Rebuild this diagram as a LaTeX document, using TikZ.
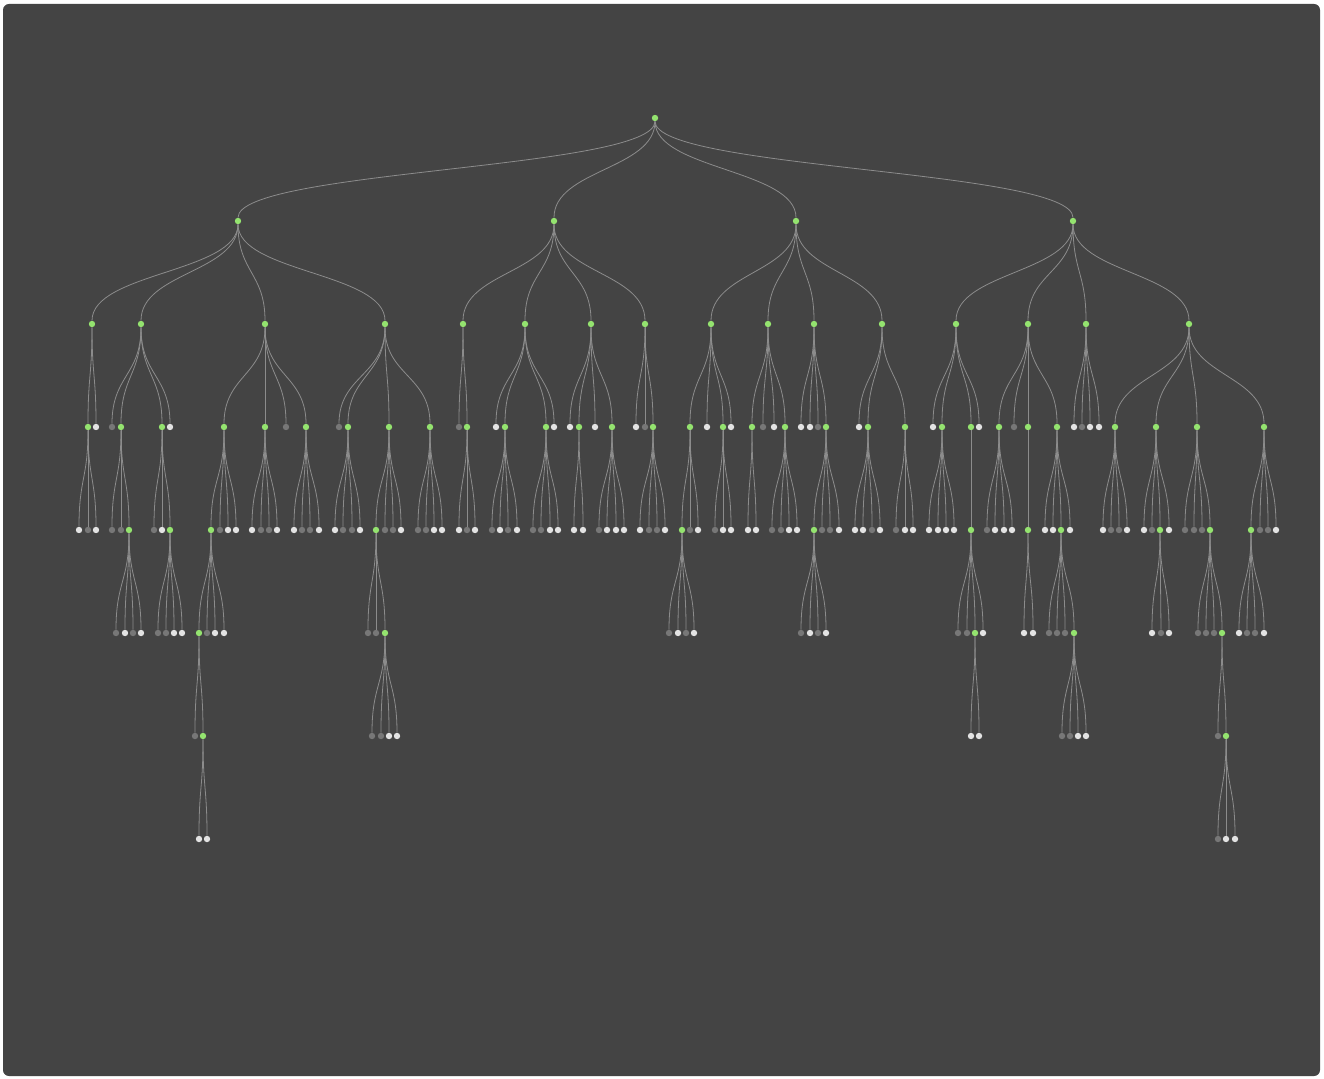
\documentclass[tikz,border=0pt]{standalone}
\definecolor{bgc}{HTML}{444444}
\definecolor{grn}{HTML}{94E36F}
\definecolor{lgt}{HTML}{E3E3E3}
\definecolor{drk}{HTML}{777777}
\definecolor{lnc}{HTML}{8C8C8C}
\tikzset{
  nd/.style={circle, inner sep=0pt, minimum size=6.4pt, draw=none},
  gn/.style={nd, fill=grn},
  wn/.style={nd, fill=lgt},
  dn/.style={nd, fill=drk},
  lnk/.style={draw=lnc, line width=0.8pt}
}
\newcommand{\kid}[5]{\node[#5] (#2) at (#3,#4) {};
  \draw[lnk] (#1) .. controls +(0,51.5) and +(0,-51.5) .. (#2);}
\begin{document}
\begin{tikzpicture}[x=1pt,y=-1pt]
\useasboundingbox (0,0) rectangle (1324,1078);
\fill[white] (0,0) rectangle (1324,1078);
\fill[bgc, rounded corners=6pt] (3,4) rectangle (1320,1076);
% level 0
\node[gn] (R) at (655,118) {};
% level 1
\kid{R}{A}{238}{221}{gn}
\kid{R}{B}{554}{221}{gn}
\kid{R}{C}{796}{221}{gn}
\kid{R}{D}{1073}{221}{gn}
% level 2
\kid{A}{A1}{92}{324}{gn}
\kid{A}{A2}{141}{324}{gn}
\kid{A}{A3}{265}{324}{gn}
\kid{A}{A4}{385}{324}{gn}
\kid{B}{B1}{463}{324}{gn}
\kid{B}{B2}{525}{324}{gn}
\kid{B}{B3}{591}{324}{gn}
\kid{B}{B4}{645}{324}{gn}
\kid{C}{C1}{711}{324}{gn}
\kid{C}{C2}{768}{324}{gn}
\kid{C}{C3}{814}{324}{gn}
\kid{C}{C4}{882}{324}{gn}
\kid{D}{D1}{956}{324}{gn}
\kid{D}{D2}{1028}{324}{gn}
\kid{D}{D3}{1086}{324}{gn}
\kid{D}{D4}{1189}{324}{gn}
% level 3
\kid{A1}{A11}{88}{427}{gn}
\kid{A1}{A12}{96}{427}{wn}
\kid{A2}{A21}{112}{427}{dn}
\kid{A2}{A22}{121}{427}{gn}
\kid{A2}{A23}{162}{427}{gn}
\kid{A2}{A24}{170}{427}{wn}
\kid{A3}{A31}{224}{427}{gn}
\kid{A3}{A32}{265}{427}{gn}
\kid{A3}{A33}{286}{427}{dn}
\kid{A3}{A34}{306}{427}{gn}
\kid{A4}{A41}{339}{427}{dn}
\kid{A4}{A42}{348}{427}{gn}
\kid{A4}{A43}{389}{427}{gn}
\kid{A4}{A44}{430}{427}{gn}
\kid{B1}{B11}{459}{427}{dn}
\kid{B1}{B12}{467}{427}{gn}
\kid{B2}{B21}{496}{427}{wn}
\kid{B2}{B22}{505}{427}{gn}
\kid{B2}{B23}{546}{427}{gn}
\kid{B2}{B24}{554}{427}{wn}
\kid{B3}{B31}{570}{427}{wn}
\kid{B3}{B32}{579}{427}{gn}
\kid{B3}{B33}{595}{427}{wn}
\kid{B3}{B34}{612}{427}{gn}
\kid{B4}{B41}{636}{427}{wn}
\kid{B4}{B42}{645}{427}{dn}
\kid{B4}{B43}{653}{427}{gn}
\kid{C1}{C11}{690}{427}{gn}
\kid{C1}{C12}{707}{427}{wn}
\kid{C1}{C13}{723}{427}{gn}
\kid{C1}{C14}{731}{427}{wn}
\kid{C2}{C21}{752}{427}{gn}
\kid{C2}{C22}{763}{427}{dn}
\kid{C2}{C23}{774}{427}{wn}
\kid{C2}{C24}{785}{427}{gn}
\kid{C3}{C31}{801}{427}{wn}
\kid{C3}{C32}{810}{427}{wn}
\kid{C3}{C33}{818}{427}{dn}
\kid{C3}{C34}{826}{427}{gn}
\kid{C4}{C41}{859}{427}{wn}
\kid{C4}{C42}{868}{427}{gn}
\kid{C4}{C43}{905}{427}{gn}
\kid{D1}{D11}{933}{427}{wn}
\kid{D1}{D12}{942}{427}{gn}
\kid{D1}{D13}{971}{427}{gn}
\kid{D1}{D14}{979}{427}{wn}
\kid{D2}{D21}{999}{427}{gn}
\kid{D2}{D22}{1014}{427}{dn}
\kid{D2}{D23}{1028}{427}{gn}
\kid{D2}{D24}{1057}{427}{gn}
\kid{D3}{D31}{1074}{427}{wn}
\kid{D3}{D32}{1082}{427}{dn}
\kid{D3}{D33}{1090}{427}{wn}
\kid{D3}{D34}{1099}{427}{wn}
\kid{D4}{D41}{1115}{427}{gn}
\kid{D4}{D42}{1156}{427}{gn}
\kid{D4}{D43}{1197}{427}{gn}
\kid{D4}{D44}{1264}{427}{gn}
% level 4
\kid{A11}{A111}{79}{530}{wn}
\kid{A11}{A112}{88}{530}{dn}
\kid{A11}{A113}{96}{530}{wn}
\kid{A22}{A221}{112}{530}{dn}
\kid{A22}{A222}{121}{530}{dn}
\kid{A22}{A223}{129}{530}{gn}
\kid{A23}{A231}{154}{530}{dn}
\kid{A23}{A232}{162}{530}{wn}
\kid{A23}{A233}{170}{530}{gn}
\kid{A31}{A311}{211}{530}{gn}
\kid{A31}{A312}{220}{530}{dn}
\kid{A31}{A313}{228}{530}{wn}
\kid{A31}{A314}{236}{530}{wn}
\kid{A32}{A321}{252}{530}{wn}
\kid{A32}{A322}{261}{530}{dn}
\kid{A32}{A323}{269}{530}{dn}
\kid{A32}{A324}{277}{530}{wn}
\kid{A34}{A341}{294}{530}{wn}
\kid{A34}{A342}{302}{530}{dn}
\kid{A34}{A343}{310}{530}{dn}
\kid{A34}{A344}{319}{530}{wn}
\kid{A42}{A421}{335}{530}{wn}
\kid{A42}{A422}{343}{530}{dn}
\kid{A42}{A423}{352}{530}{dn}
\kid{A42}{A424}{360}{530}{wn}
\kid{A43}{A431}{376}{530}{gn}
\kid{A43}{A432}{385}{530}{dn}
\kid{A43}{A433}{393}{530}{dn}
\kid{A43}{A434}{401}{530}{wn}
\kid{A44}{A441}{418}{530}{dn}
\kid{A44}{A442}{426}{530}{dn}
\kid{A44}{A443}{434}{530}{wn}
\kid{A44}{A444}{442}{530}{wn}
\kid{B12}{B121}{459}{530}{wn}
\kid{B12}{B122}{467}{530}{dn}
\kid{B12}{B123}{475}{530}{wn}
\kid{B22}{B221}{492}{530}{dn}
\kid{B22}{B222}{500}{530}{wn}
\kid{B22}{B223}{508}{530}{dn}
\kid{B22}{B224}{517}{530}{wn}
\kid{B23}{B231}{533}{530}{dn}
\kid{B23}{B232}{541}{530}{dn}
\kid{B23}{B233}{550}{530}{wn}
\kid{B23}{B234}{558}{530}{wn}
\kid{B32}{B321}{574}{530}{wn}
\kid{B32}{B322}{583}{530}{wn}
\kid{B34}{B341}{599}{530}{dn}
\kid{B34}{B342}{607}{530}{wn}
\kid{B34}{B343}{616}{530}{wn}
\kid{B34}{B344}{624}{530}{wn}
\kid{B43}{B431}{640}{530}{wn}
\kid{B43}{B432}{649}{530}{dn}
\kid{B43}{B433}{657}{530}{dn}
\kid{B43}{B434}{665}{530}{wn}
\kid{C11}{C111}{682}{530}{gn}
\kid{C11}{C112}{690}{530}{dn}
\kid{C11}{C113}{698}{530}{wn}
\kid{C13}{C131}{715}{530}{dn}
\kid{C13}{C132}{723}{530}{wn}
\kid{C13}{C133}{731}{530}{wn}
\kid{C21}{C211}{748}{530}{wn}
\kid{C21}{C212}{756}{530}{wn}
\kid{C24}{C241}{772}{530}{dn}
\kid{C24}{C242}{781}{530}{dn}
\kid{C24}{C243}{789}{530}{wn}
\kid{C24}{C244}{797}{530}{wn}
\kid{C34}{C341}{814}{530}{gn}
\kid{C34}{C342}{822}{530}{dn}
\kid{C34}{C343}{830}{530}{dn}
\kid{C34}{C344}{839}{530}{wn}
\kid{C42}{C421}{855}{530}{wn}
\kid{C42}{C422}{863}{530}{wn}
\kid{C42}{C423}{872}{530}{dn}
\kid{C42}{C424}{880}{530}{wn}
\kid{C43}{C431}{896}{530}{dn}
\kid{C43}{C432}{905}{530}{wn}
\kid{C43}{C433}{913}{530}{wn}
\kid{D12}{D121}{929}{530}{wn}
\kid{D12}{D122}{938}{530}{wn}
\kid{D12}{D123}{946}{530}{wn}
\kid{D12}{D124}{954}{530}{wn}
\kid{D13}{D131}{971}{530}{gn}
\kid{D21}{D211}{987}{530}{dn}
\kid{D21}{D212}{995}{530}{wn}
\kid{D21}{D213}{1004}{530}{wn}
\kid{D21}{D214}{1012}{530}{wn}
\kid{D23}{D231}{1028}{530}{gn}
\kid{D24}{D241}{1045}{530}{wn}
\kid{D24}{D242}{1053}{530}{wn}
\kid{D24}{D243}{1061}{530}{gn}
\kid{D24}{D244}{1070}{530}{wn}
\kid{D41}{D411}{1103}{530}{wn}
\kid{D41}{D412}{1111}{530}{dn}
\kid{D41}{D413}{1119}{530}{dn}
\kid{D41}{D414}{1127}{530}{wn}
\kid{D42}{D421}{1144}{530}{wn}
\kid{D42}{D422}{1152}{530}{dn}
\kid{D42}{D423}{1160}{530}{gn}
\kid{D42}{D424}{1169}{530}{wn}
\kid{D43}{D431}{1185}{530}{dn}
\kid{D43}{D432}{1194}{530}{dn}
\kid{D43}{D433}{1202}{530}{dn}
\kid{D43}{D434}{1210}{530}{gn}
\kid{D44}{D441}{1251}{530}{gn}
\kid{D44}{D442}{1260}{530}{dn}
\kid{D44}{D443}{1268}{530}{dn}
\kid{D44}{D444}{1276}{530}{wn}
% level 5
\kid{A223}{A2231}{116}{633}{dn}
\kid{A223}{A2232}{125}{633}{wn}
\kid{A223}{A2233}{133}{633}{dn}
\kid{A223}{A2234}{141}{633}{wn}
\kid{A233}{A2331}{158}{633}{dn}
\kid{A233}{A2332}{166}{633}{dn}
\kid{A233}{A2333}{174}{633}{wn}
\kid{A233}{A2334}{182}{633}{wn}
\kid{A311}{A3111}{199}{633}{gn}
\kid{A311}{A3112}{207}{633}{dn}
\kid{A311}{A3113}{215}{633}{wn}
\kid{A311}{A3114}{224}{633}{wn}
\kid{A431}{A4311}{368}{633}{dn}
\kid{A431}{A4312}{376}{633}{dn}
\kid{A431}{A4313}{385}{633}{gn}
\kid{C111}{C1111}{669}{633}{dn}
\kid{C111}{C1112}{678}{633}{wn}
\kid{C111}{C1113}{686}{633}{dn}
\kid{C111}{C1114}{694}{633}{wn}
\kid{C341}{C3411}{801}{633}{dn}
\kid{C341}{C3412}{810}{633}{wn}
\kid{C341}{C3413}{818}{633}{dn}
\kid{C341}{C3414}{826}{633}{wn}
\kid{D131}{D1311}{958}{633}{dn}
\kid{D131}{D1312}{967}{633}{dn}
\kid{D131}{D1313}{975}{633}{gn}
\kid{D131}{D1314}{983}{633}{wn}
\kid{D231}{D2311}{1024}{633}{wn}
\kid{D231}{D2312}{1033}{633}{wn}
\kid{D243}{D2431}{1049}{633}{dn}
\kid{D243}{D2432}{1057}{633}{dn}
\kid{D243}{D2433}{1065}{633}{dn}
\kid{D243}{D2434}{1074}{633}{gn}
\kid{D423}{D4231}{1152}{633}{wn}
\kid{D423}{D4232}{1161}{633}{dn}
\kid{D423}{D4233}{1169}{633}{wn}
\kid{D434}{D4341}{1198}{633}{dn}
\kid{D434}{D4342}{1206}{633}{dn}
\kid{D434}{D4343}{1214}{633}{dn}
\kid{D434}{D4344}{1222}{633}{gn}
\kid{D441}{D4411}{1239}{633}{wn}
\kid{D441}{D4412}{1247}{633}{dn}
\kid{D441}{D4413}{1255}{633}{dn}
\kid{D441}{D4414}{1264}{633}{wn}
% level 6
\kid{A3111}{A31111}{195}{736}{dn}
\kid{A3111}{A31112}{203}{736}{gn}
\kid{A4313}{A43131}{372}{736}{dn}
\kid{A4313}{A43132}{381}{736}{dn}
\kid{A4313}{A43133}{389}{736}{wn}
\kid{A4313}{A43134}{397}{736}{wn}
\kid{D1313}{D13131}{971}{736}{wn}
\kid{D1313}{D13132}{979}{736}{wn}
\kid{D2434}{D24341}{1062}{736}{dn}
\kid{D2434}{D24342}{1070}{736}{dn}
\kid{D2434}{D24343}{1078}{736}{wn}
\kid{D2434}{D24344}{1086}{736}{wn}
\kid{D4344}{D43441}{1218}{736}{dn}
\kid{D4344}{D43442}{1226}{736}{gn}
% level 7
\kid{A31112}{A311121}{199}{839}{wn}
\kid{A31112}{A311122}{207}{839}{wn}
\kid{D43442}{D434421}{1218}{839}{dn}
\kid{D43442}{D434422}{1226}{839}{wn}
\kid{D43442}{D434423}{1235}{839}{wn}
\end{tikzpicture}
\end{document}
